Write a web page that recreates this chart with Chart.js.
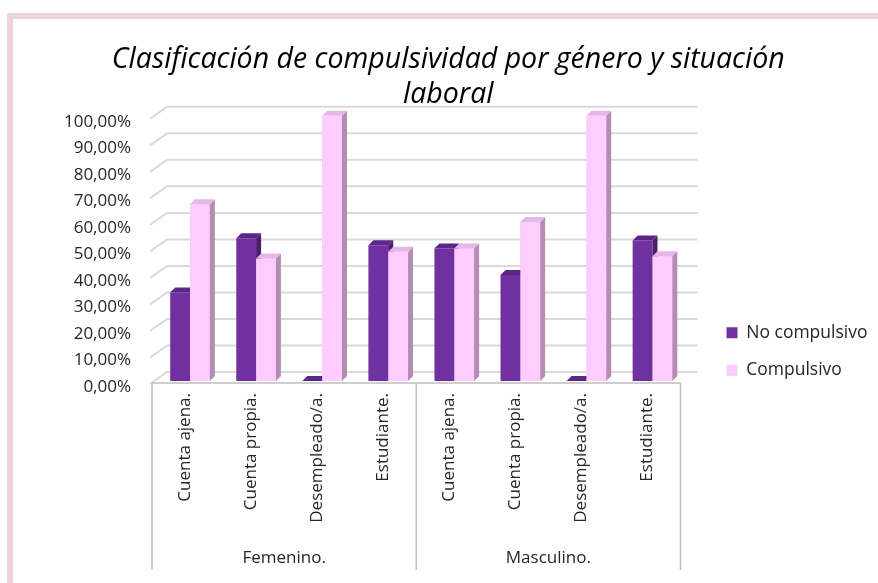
<!DOCTYPE html>
<html><head><meta charset="utf-8">
<script src="https://cdn.jsdelivr.net/npm/chart.js@4"></script>
<style>
html,body{margin:0;padding:0;background:#fff;}
#wrap{position:relative;width:878px;height:583px;overflow:hidden;}
#frame{position:absolute;left:7px;top:13px;right:0;bottom:0;border-left:6px solid #ecd3dd;border-top:6px solid #ecd3dd;}
canvas{position:absolute;left:0;top:0;}
</style></head><body>
<div id="wrap"><div id="frame"></div><canvas id="c" width="878" height="583"></canvas></div>
<script>
const titleLines = ['Clasificación de compulsividad por género y situación', 'laboral'];
const categories = ['Cuenta ajena.', 'Cuenta propia.', 'Desempleado/a.', 'Estudiante.',
                    'Cuenta ajena.', 'Cuenta propia.', 'Desempleado/a.', 'Estudiante.'];
const groups = ['Femenino.', 'Masculino.'];
const seriesNames = ['No compulsivo', 'Compulsivo'];
const noCompulsivo = [33.33, 53.85, 0, 51.22, 50.00, 40.00, 0, 52.94];
const compulsivo   = [66.67, 46.15, 100, 48.78, 50.00, 60.00, 100, 47.06];
const yTickValues = [0, 10, 20, 30, 40, 50, 60, 70, 80, 90, 100];

const FONT = 'Open Sans';
const TXT = '#262626';
const DEPTH = {dx: 5, dy: 5};
const WALL = {dx: 17, dy: 12};

const threeD = {
  id: 'threeD',
  afterLayout(chart) {
    const lg = chart.legend;
    const w = lg.width, h = lg.height;
    lg.left = chart.chartArea.right + 21; lg.right = lg.left + w;
    lg.top = chart.chartArea.bottom - 77; lg.bottom = lg.top + h;
  },
  beforeDatasetsDraw(chart) {
    const {ctx, chartArea: a, scales: {y}} = chart;
    ctx.save();
    ctx.strokeStyle = '#d9d9d9';
    ctx.lineWidth = 2;
    y.ticks.forEach(t => {
      const py = y.getPixelForValue(t.value);
      ctx.beginPath();
      ctx.moveTo(a.left - 7, py + 3);
      ctx.lineTo(a.left - 7 + WALL.dx, py + 3 - WALL.dy);
      ctx.lineTo(a.right + 12, py + 3 - WALL.dy);
      ctx.stroke();
    });
    ctx.restore();
  },
  afterDatasetsDraw(chart) {
    const ctx = chart.ctx;
    const poly = pts => { ctx.beginPath(); ctx.moveTo(pts[0], pts[1]); for (let i = 2; i < pts.length; i += 2) ctx.lineTo(pts[i], pts[i+1]); ctx.closePath(); ctx.fill(); };
    ctx.save();
    chart.data.datasets.forEach((ds, i) => {
      const meta = chart.getDatasetMeta(i);
      meta.data.forEach(bar => {
        const {x, y, base, width} = bar.getProps(['x', 'y', 'base', 'width'], true);
        const l = x - width / 2, r = x + width / 2;
        if (i > 0 && base - y > 0) { ctx.fillStyle = ds.backgroundColor; ctx.fillRect(l, y, width, base - y); }
        ctx.fillStyle = ds.sideColor;
        poly([r, y, r + DEPTH.dx, y - DEPTH.dy, r + DEPTH.dx, base - DEPTH.dy, r, base]);
        ctx.fillStyle = ds.topColor;
        poly([l, y, l + DEPTH.dx, y - DEPTH.dy, r + DEPTH.dx, y - DEPTH.dy, r, y]);
      });
    });
    ctx.restore();
  },
  afterDraw(chart) {
    const {ctx, chartArea: a, scales: {x, x2}} = chart;
    const per = categories.length / groups.length;
    const bounds = [];
    for (let g = 0; g <= groups.length; g++) bounds.push(x.getPixelForValue(g * per - 0.5) - 5);
    ctx.save();
    ctx.strokeStyle = '#bfbfbf';
    ctx.lineWidth = 1.5;
    const yAxis = a.bottom + 2;
    ctx.beginPath();
    ctx.moveTo(bounds[0], yAxis); ctx.lineTo(bounds[bounds.length - 1], yAxis);
    bounds.forEach(bx => { ctx.moveTo(bx, yAxis); ctx.lineTo(bx, x2.bottom); });
    ctx.stroke();
    ctx.restore();
  }
};

new Chart(document.getElementById('c'), {
  type: 'bar',
  data: {
    labels: categories,
    datasets: [
      {label: seriesNames[0], data: noCompulsivo, backgroundColor: '#7030a0', sideColor: '#4b1d6c', topColor: '#5b2686',
       borderWidth: 0, barPercentage: 1, categoryPercentage: 0.6},
      {label: seriesNames[1], data: compulsivo, backgroundColor: '#ffccff', sideColor: '#b48cb4', topColor: '#e6b6e6',
       borderWidth: 0, barPercentage: 1, categoryPercentage: 0.6}
    ]
  },
  options: {
    responsive: false,
    animation: false,
    layout: {padding: {left: 40, right: 21.5, top: 20, bottom: 13}},
    plugins: {
      title: {display: true, text: titleLines, color: '#000',
        font: {family: FONT, size: 28.5, style: 'italic', weight: 'normal', lineHeight: 1.228},
        padding: {top: 22.5, bottom: 3.3}},
      legend: {position: 'right', align: 'start',
        labels: {boxWidth: 11, boxHeight: 11, padding: 20, color: TXT, font: {family: FONT, size: 17.5}}},
      tooltip: {enabled: false}
    },
    scales: {
      x: {type: 'category', offset: true,
        grid: {display: false, drawTicks: false}, border: {display: false},
        ticks: {minRotation: 90, maxRotation: 90, autoSkip: false, padding: 12, labelOffset: -5,
          color: TXT, font: {family: FONT, size: 17}},
        afterFit: s => { s.height = 150; }},
      x2: {type: 'category', labels: groups, position: 'bottom', offset: true, weight: 1,
        grid: {display: false, drawTicks: false}, border: {display: false},
        ticks: {padding: 17, labelOffset: -5, color: TXT, font: {family: FONT, size: 17}},
        afterFit: s => { s.height = 39; }},
      y: {min: 0, max: 100,
        afterBuildTicks: s => { s.ticks = yTickValues.map(v => ({value: v})); },
        grid: {display: false, drawTicks: false}, border: {display: false},
        ticks: {padding: 26, labelOffset: 6, color: TXT, font: {family: FONT, size: 17},
          callback: v => Number(v).toFixed(2).replace('.', ',') + '%'},
        afterFit: s => { s.width = 117; }}
    }
  },
  plugins: [threeD]
});
</script>
</body></html>
